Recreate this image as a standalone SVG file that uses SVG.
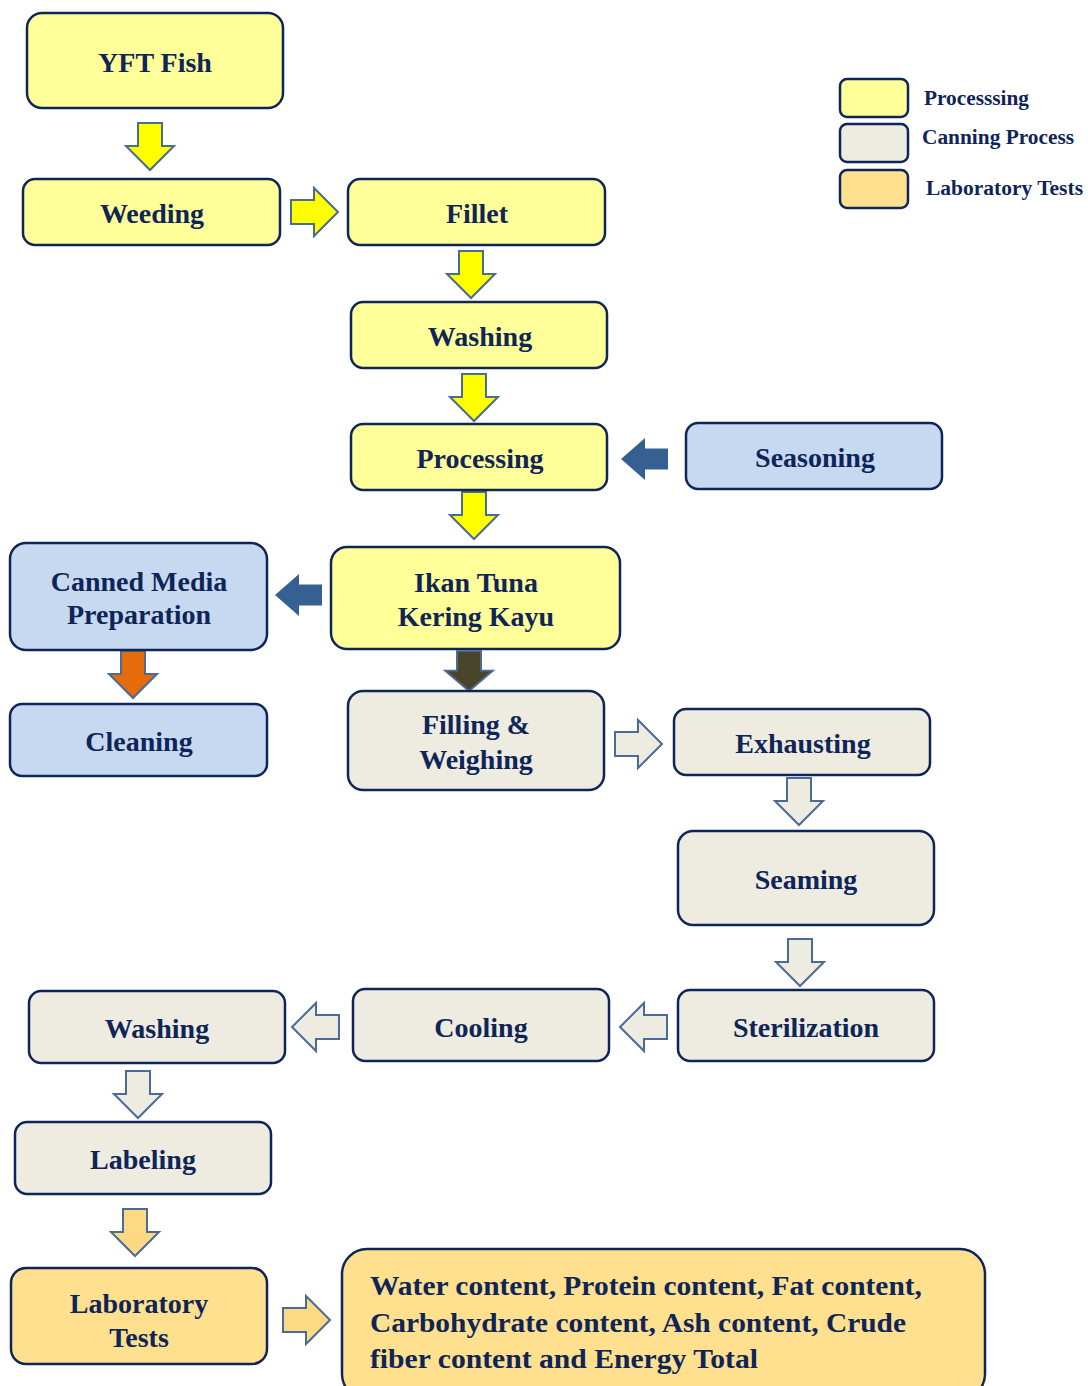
<svg xmlns="http://www.w3.org/2000/svg" width="1088" height="1386" viewBox="0 0 1088 1386">
<style>
.n{stroke:#0f2557;stroke-width:2.5}
.y{fill:#ffff99}.g{fill:#eeece1}.b{fill:#c6d9f1}.o{fill:#fee08f}
text{font-family:'Liberation Serif',Tinos,'Times New Roman','DejaVu Serif',serif;font-weight:700;fill:#0f2557;text-anchor:middle}
.t{font-size:28px}
.l{font-size:20px;text-anchor:start}
.a{stroke:#4a6b94;stroke-width:2}
.ay{fill:#ffff00}.ab{fill:#376092;stroke:none}.ao{fill:#e46c0a}.ad{fill:#4a452a}.ag{fill:#eeece1}.al{fill:#fdd985}
</style>
<defs>
<path id="arr" d="M0,-12H23V-24L47,0L23,24V12H0Z"/>
</defs>
<rect width="1088" height="1386" fill="#fff"/>
<g id="connectors">
<use href="#arr" class="a ay" transform="translate(150,123) rotate(90)"/>
<use href="#arr" class="a ay" transform="translate(291,212)"/>
<use href="#arr" class="a ay" transform="translate(471,251) rotate(90)"/>
<use href="#arr" class="a ay" transform="translate(474,374) rotate(90)"/>
<use href="#arr" class="a ay" transform="translate(474,492) rotate(90)"/>
<use href="#arr" class="a ab" transform="translate(668,459) rotate(180) scale(1,0.875)"/>
<use href="#arr" class="a ab" transform="translate(322,595) rotate(180) scale(1,0.875)"/>
<use href="#arr" class="a ao" transform="translate(133,651) rotate(90)"/>
<use href="#arr" class="a ad" transform="translate(469,651) rotate(90) scale(0.85,1)"/>
<use href="#arr" class="a ag" transform="translate(615,744)"/>
<use href="#arr" class="a ag" transform="translate(799,778) rotate(90)"/>
<use href="#arr" class="a ag" transform="translate(800,939) rotate(90)"/>
<use href="#arr" class="a ag" transform="translate(667,1027) rotate(180)"/>
<use href="#arr" class="a ag" transform="translate(339,1027) rotate(180)"/>
<use href="#arr" class="a ag" transform="translate(138,1071) rotate(90)"/>
<use href="#arr" class="a al" transform="translate(135,1209) rotate(90)"/>
<use href="#arr" class="a al" transform="translate(283,1320)"/>
</g>
<g id="yft"><rect class="n y" x="27" y="13" width="256" height="95" rx="15"/><text class="t" x="155" y="72">YFT Fish</text></g>
<g id="weeding"><rect class="n y" x="23" y="179" width="257" height="66" rx="12"/><text class="t" x="152" y="223">Weeding</text></g>
<g id="fillet"><rect class="n y" x="348" y="179" width="257" height="66" rx="12"/><text class="t" x="477" y="223">Fillet</text></g>
<g id="washing1"><rect class="n y" x="351" y="302" width="256" height="66" rx="12"/><text class="t" x="480" y="346">Washing</text></g>
<g id="processing"><rect class="n y" x="351" y="424" width="256" height="66" rx="12"/><text class="t" x="480" y="468">Processing</text></g>
<g id="seasoning"><rect class="n b" x="686" y="423" width="256" height="66" rx="12"/><text class="t" x="815" y="467">Seasoning</text></g>
<g id="ikan"><rect class="n y" x="331" y="547" width="289" height="102" rx="16"/><text class="t" x="476" y="592">Ikan Tuna</text><text class="t" x="476" y="626">Kering Kayu</text></g>
<g id="canned"><rect class="n b" x="10" y="543" width="257" height="107" rx="16"/><text class="t" x="139" y="591">Canned Media</text><text class="t" x="139" y="624">Preparation</text></g>
<g id="cleaning"><rect class="n b" x="10" y="704" width="257" height="72" rx="12"/><text class="t" x="139" y="751">Cleaning</text></g>
<g id="filling"><rect class="n g" x="348" y="691" width="256" height="99" rx="15"/><text class="t" x="476" y="734">Filling &amp;</text><text class="t" x="476" y="769">Weighing</text></g>
<g id="exhausting"><rect class="n g" x="674" y="709" width="256" height="66" rx="12"/><text class="t" x="803" y="753">Exhausting</text></g>
<g id="seaming"><rect class="n g" x="678" y="831" width="256" height="94" rx="15"/><text class="t" x="806" y="889">Seaming</text></g>
<g id="sterilization"><rect class="n g" x="678" y="990" width="256" height="71" rx="12"/><text class="t" x="806" y="1037">Sterilization</text></g>
<g id="cooling"><rect class="n g" x="353" y="989" width="256" height="72" rx="12"/><text class="t" x="481" y="1037">Cooling</text></g>
<g id="washing2"><rect class="n g" x="29" y="991" width="256" height="72" rx="12"/><text class="t" x="157" y="1038">Washing</text></g>
<g id="labeling"><rect class="n g" x="15" y="1122" width="256" height="72" rx="12"/><text class="t" x="143" y="1169">Labeling</text></g>
<g id="labtests"><rect class="n o" x="11" y="1268" width="256" height="96" rx="15"/><text class="t" x="139" y="1313">Laboratory</text><text class="t" x="139" y="1347">Tests</text></g>
<g id="results"><rect class="n o" x="342" y="1249" width="643" height="150" rx="25"/>
<text class="t" x="370" y="1295" style="text-anchor:start" textLength="552" lengthAdjust="spacingAndGlyphs">Water content, Protein content, Fat content,</text>
<text class="t" x="370" y="1332" style="text-anchor:start" textLength="536" lengthAdjust="spacingAndGlyphs">Carbohydrate content, Ash content, Crude</text>
<text class="t" x="370" y="1368" style="text-anchor:start" textLength="388" lengthAdjust="spacingAndGlyphs">fiber content and Energy Total</text></g>
<g id="legend">
<rect class="n y" x="840" y="79" width="68" height="38" rx="7"/>
<rect class="n g" x="840" y="124" width="68" height="38" rx="7"/>
<rect class="n o" x="840" y="170" width="68" height="38" rx="7"/>
<text class="l" x="924" y="105" textLength="105" lengthAdjust="spacingAndGlyphs">Processsing</text>
<text class="l" x="922" y="144" textLength="152" lengthAdjust="spacingAndGlyphs">Canning Process</text>
<text class="l" x="926" y="195" textLength="157" lengthAdjust="spacingAndGlyphs">Laboratory Tests</text>
</g>
</svg>
